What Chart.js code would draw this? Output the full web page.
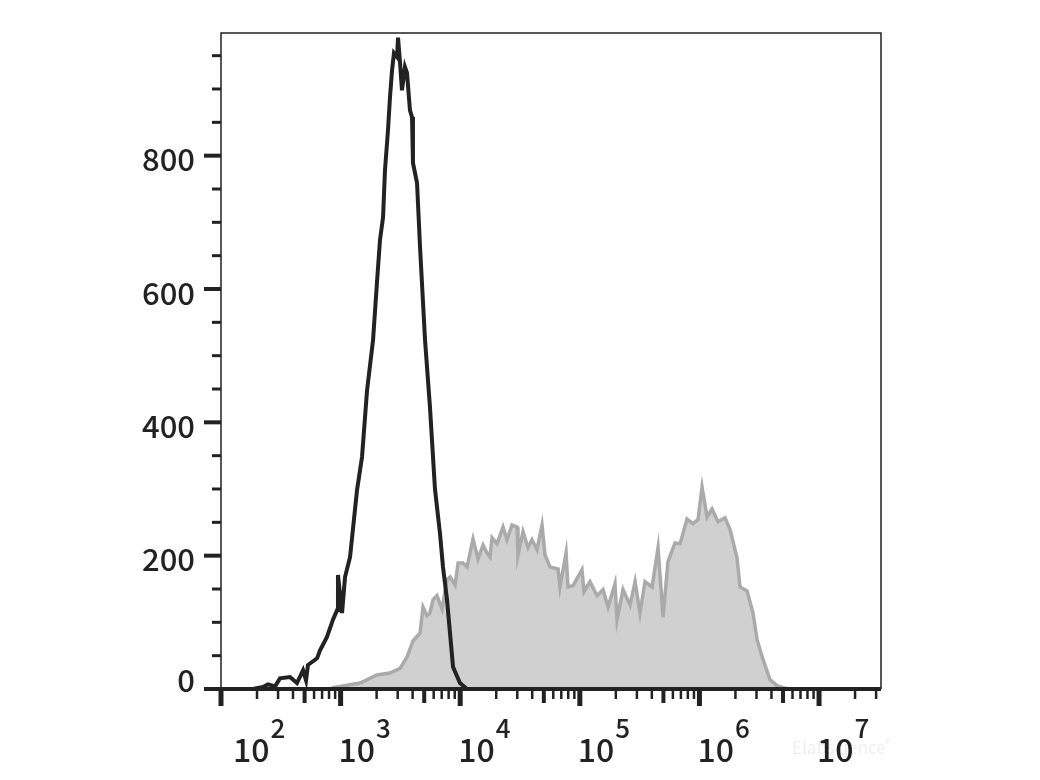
<!DOCTYPE html>
<html>
<head>
<meta charset="utf-8">
<script src="https://cdn.jsdelivr.net/npm/chart.js@4.4.1/dist/chart.umd.min.js"></script>
<style>
  html, body { margin: 0; padding: 0; background: #fff; }
  #wrap { width: 1040px; height: 780px; }
</style>
</head>
<body>
<div id="wrap"><canvas id="flowChart" width="1040" height="780"></canvas></div>
<script>
// x values are log10 of fluorescence (decades), y values are counts
const blackLog = [2.000, 2.268, 2.351, 2.393, 2.452, 2.493, 2.577, 2.635, 2.686, 2.711, 2.727, 2.803, 2.828, 2.886,
  2.936, 2.970, 2.978, 3.012, 3.037, 3.079, 3.137, 3.179, 3.221, 3.271, 3.304, 3.329, 3.355, 3.371, 3.396, 3.413,
  3.430, 3.446, 3.472, 3.480, 3.497, 3.513, 3.538, 3.555, 3.580, 3.597, 3.605, 3.639, 3.664, 3.706, 3.747, 3.789,
  3.831, 3.856, 3.890, 3.940, 3.998, 4.057];
const blackCount = [0, 0, 3, 7, 4, 16, 18, 9, 28, 13, 36, 46, 58, 78,
  104, 118, 171, 114, 168, 198, 298, 348, 448, 523, 610, 673, 708, 778, 838, 888,
  928, 954, 948, 977, 939, 898, 933, 924, 868, 858, 789, 759, 663, 523, 423, 300,
  233, 183, 133, 33, 9, 0];

const greyLog = [2.911, 2.936, 3.162, 3.304, 3.413, 3.497, 3.555, 3.605, 3.664, 3.689, 3.722, 3.747, 3.773, 3.806,
  3.848, 3.890, 3.915, 3.957, 3.982, 4.023, 4.057, 4.107, 4.149, 4.191, 4.224, 4.249, 4.266, 4.308, 4.358, 4.391,
  4.433, 4.475, 4.483, 4.525, 4.567, 4.600, 4.642, 4.684, 4.709, 4.751, 4.818, 4.834, 4.885, 4.901, 4.943, 5.018,
  5.035, 5.085, 5.144, 5.194, 5.236, 5.294, 5.311, 5.361, 5.420, 5.462, 5.503, 5.545, 5.604, 5.654, 5.696, 5.737,
  5.796, 5.838, 5.896, 5.946, 5.988, 6.022, 6.064, 6.105, 6.155, 6.214, 6.256, 6.314, 6.339, 6.398, 6.448, 6.482,
  6.532, 6.590, 6.649, 6.699, 6.758];
const greyCount = [0, 2, 9, 21, 24, 31, 48, 72, 84, 123, 110, 114, 134, 140,
  120, 164, 168, 156, 189, 189, 183, 225, 195, 216, 204, 198, 227, 218, 243, 224,
  246, 243, 201, 236, 212, 224, 209, 246, 201, 183, 180, 153, 204, 153, 155, 179,
  146, 161, 140, 149, 123, 158, 104, 149, 126, 161, 114, 161, 153, 212, 108, 191,
  219, 218, 255, 248, 254, 303, 258, 270, 251, 257, 239, 197, 153, 147, 114, 74,
  44, 14, 5, 2, 0];

const xDecades = [2, 3, 4, 5, 6, 7];
const xMinors = [2, 3, 4, 5, 6, 7, 8, 9];
const yLabels = [0, 200, 400, 600, 800];
const yMinorStep = 50;
const xMin = 2, xMax = 7.518, yMax = 984;

function toPoints(xs, ys) {
  return xs.map((v, i) => ({ x: v, y: ys[i] }));
}

const fontMain = '"Noto Sans CJK SC", "Noto Sans", sans-serif';

const flowAxes = {
  id: 'flowAxes',
  afterDatasetsDraw(chart) {
    const { ctx, chartArea: a, scales: { x, y } } = chart;
    ctx.save();
    ctx.strokeStyle = '#222';
    ctx.fillStyle = '#222';

    // frame
    ctx.lineWidth = 1.5;
    ctx.beginPath();
    ctx.moveTo(a.left, a.bottom);
    ctx.lineTo(a.left, a.top);
    ctx.lineTo(a.right, a.top);
    ctx.lineTo(a.right, a.bottom);
    ctx.stroke();

    // y ticks
    for (let v = 0; v < yMax; v += yMinorStep) {
      const py = y.getPixelForValue(v);
      const major = yLabels.includes(v);
      ctx.lineWidth = major ? 4 : 3;
      ctx.beginPath();
      ctx.moveTo(a.left - (major ? 17 : 9), py);
      ctx.lineTo(a.left, py);
      ctx.stroke();
    }

    // bottom axis
    ctx.lineWidth = 4;
    ctx.beginPath();
    ctx.moveTo(a.left - 17, a.bottom);
    ctx.lineTo(a.right, a.bottom);
    ctx.stroke();

    // x ticks
    xDecades.forEach(d => {
      const px = x.getPixelForValue(d);
      ctx.lineWidth = 5;
      ctx.beginPath();
      ctx.moveTo(px, a.bottom);
      ctx.lineTo(px, a.bottom + 17);
      ctx.stroke();
      xMinors.forEach(k => {
        const v = d + Math.log10(k);
        if (v > xMax) return;
        const mx = x.getPixelForValue(v);
        const mid = k === 5;
        ctx.lineWidth = mid ? 4 : 2.5;
        ctx.beginPath();
        ctx.moveTo(mx, a.bottom);
        ctx.lineTo(mx, a.bottom + (mid ? 14 : 10));
        ctx.stroke();
      });
    });

    // y labels
    ctx.font = '500 31px ' + fontMain;
    ctx.textAlign = 'right';
    ctx.textBaseline = 'middle';
    yLabels.forEach(v => {
      const py = y.getPixelForValue(v);
      ctx.fillText(String(v), a.left - 26, v === 0 ? py - 9 : py + 4);
    });

    // x labels: 10 with superscript exponent
    ctx.textAlign = 'left';
    ctx.textBaseline = 'alphabetic';
    xDecades.forEach(d => {
      const px = x.getPixelForValue(d);
      const lx = d === xMin ? px + 12 : px - 2;
      ctx.font = '500 32px ' + fontMain;
      ctx.fillText('10', lx, 762);
      const w = ctx.measureText('10').width;
      ctx.font = '500 26px ' + fontMain;
      ctx.fillText(String(d), lx + w + 1, 738);
    });

    // faint watermark
    ctx.font = '17px ' + fontMain;
    ctx.fillStyle = 'rgba(0,0,0,0.07)';
    ctx.fillText('Elabscience\u2019', 792, 754);

    ctx.restore();
  }
};

new Chart(document.getElementById('flowChart'), {
  type: 'line',
  data: {
    datasets: [{
      label: 'control',
      data: toPoints(blackLog, blackCount),
      borderColor: '#222',
      borderWidth: 4,
      fill: false,
      pointRadius: 0,
      tension: 0,
      order: 0
    }, {
      label: 'stained',
      data: toPoints(greyLog, greyCount),
      borderColor: '#aaaaaa',
      backgroundColor: '#d0d0d0',
      borderWidth: 3.5,
      fill: 'origin',
      pointRadius: 0,
      tension: 0,
      order: 1
    }]
  },
  options: {
    responsive: false,
    animation: false,
    layout: { padding: { left: 221, top: 33, right: 159, bottom: 91 } },
    plugins: { legend: { display: false }, tooltip: { enabled: false } },
    scales: {
      x: { type: 'linear', min: xMin, max: xMax, display: false },
      y: { type: 'linear', min: 0, max: yMax, display: false }
    }
  },
  plugins: [flowAxes]
});
</script>
</body>
</html>
